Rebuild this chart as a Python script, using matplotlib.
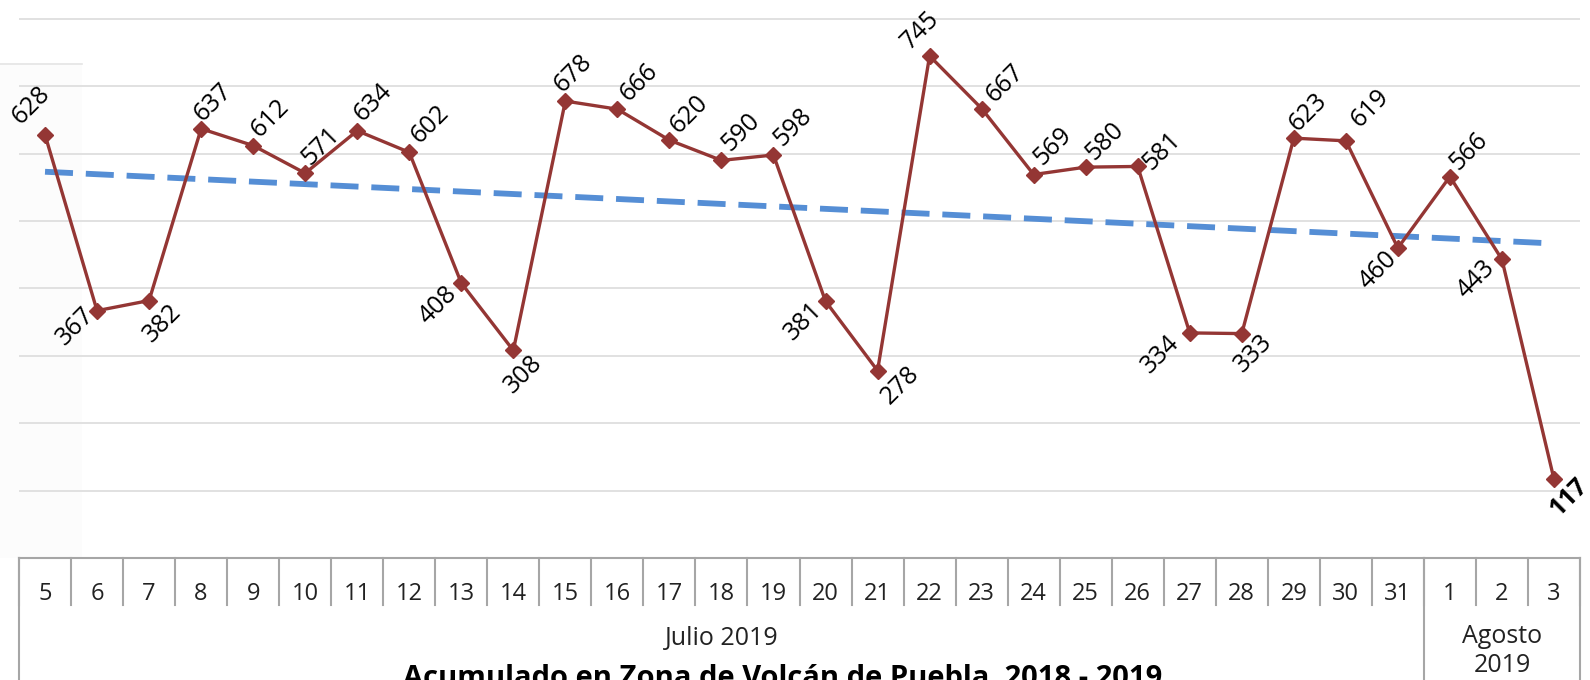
import numpy as np
import matplotlib
matplotlib.use("Agg")
import matplotlib.pyplot as plt
from matplotlib.lines import Line2D
from matplotlib.patches import Rectangle
from matplotlib.transforms import blended_transform_factory

plt.rcParams['font.family'] = ['Open Sans', 'DejaVu Sans']

# data
days = ['5', '6', '7', '8', '9', '10', '11', '12', '13', '14', '15', '16', '17', '18', '19',
        '20', '21', '22', '23', '24', '25', '26', '27', '28', '29', '30', '31', '1', '2', '3']
values = [628, 367, 382, 637, 612, 571, 634, 602, 408, 308, 678, 666, 620, 590, 598,
          381, 278, 745, 667, 569, 580, 581, 334, 333, 623, 619, 460, 566, 443, 117]
months = ['Julio 2019', 'Agosto\n2019']
month_days = [27, 3]
title = 'Acumulado en Zona de Volcán de Puebla  2018 - 2019'

# label offsets in pixels (dx, dy; dy up positive)
label_off = [(-14, 30), (-22, -16), (13, -23), (12, 26), (17, 27), (16, 27), (16, 28), (21, 28),
             (-23, -22), (10, -24), (8, 28), (22, 27), (20, 26), (19, 28), (19, 28),
             (-22, -20), (23, -15), (-9, 26), (24, 25), (19, 28), (19, 26), (24, 15),
             (-29, -21), (12, -20), (14, 26), (24, 33), (-20, -22), (19, 25), (-26, -20), (15, -18)]

W, H = 1590, 680
fig = plt.figure(figsize=(W / 100, H / 100), dpi=100)
left, right, bottom_px = 19, 1580, 558
ax = fig.add_axes([left / W, (H - bottom_px) / H, (right - left) / W, bottom_px / H])
ax.patch.set_alpha(0)

# faint panel at top-left
fig.add_artist(Rectangle((0, (H - 558) / H), 82 / W, (558 - 64) / H, transform=fig.transFigure,
                         facecolor='#fcfcfc', edgecolor='none', zorder=-5))
fig.add_artist(Line2D([0, 82 / W], [(H - 64) / H] * 2, transform=fig.transFigure,
                      color='#e4e4e4', lw=1.2, zorder=-4))

x = np.arange(len(values))
ax.set_xlim(-0.5, len(values) - 0.5)
ax.set_ylim(0, 828)
for g in range(100, 900, 100):
    ax.axhline(g, color='#d9d9d9', lw=1.1, zorder=0)

ax.plot(x, values, color='#943634', lw=2.4, marker='D', markersize=8.5, zorder=3)

# linear trend line
k, b = np.polyfit(x, values, 1)
ax.plot(x, k * x + b, color='#558ed5', lw=4.2, dashes=(4.8, 2.2), zorder=2)

for i, v in enumerate(values):
    dx, dy = label_off[i]
    bold = i == len(values) - 1
    ax.annotate(str(v), (x[i], v), xytext=(dx, dy), textcoords='offset pixels',
                rotation=45, ha='center', va='center', rotation_mode='anchor',
                fontsize=18, color='black', fontweight='bold' if bold else 'normal',
                zorder=4)

for s in ax.spines.values():
    s.set_visible(False)
ax.set_yticks([])
ax.set_xticks(x)
ax.set_xticklabels(days, fontsize=17, color='#222222')
ax.tick_params(axis='x', length=0, pad=17)

# multi level category box
tr = blended_transform_factory(ax.transData, fig.transFigure)
yb = (H - bottom_px) / H
ytick = (H - 605) / H
box = '#a6a6a6'
fig.add_artist(Line2D([-0.5, len(values) - 0.5], [yb, yb], transform=tr, color=box, lw=1.5))
for e in np.arange(len(values) + 1) - 0.5:
    fig.add_artist(Line2D([e, e], [yb, ytick], transform=tr, color=box, lw=1.5))
start = -0.5
for m, n in zip(months, month_days):
    end = start + n
    fig.add_artist(Line2D([start, start], [yb, 0], transform=tr, color=box, lw=1.5))
    mid = (start + end) / 2
    ym = (H - 651) / H if '\n' in m else (H - 638) / H
    fig.text(mid, ym, m, transform=tr, ha='center', va='center',
             fontsize=18, color='#222222', linespacing=1.25)
    start = end
fig.add_artist(Line2D([start, start], [yb, 0], transform=tr, color=box, lw=1.5))

fig.text(783 / W, (H - 664) / H, title, ha='center', va='top', fontsize=21,
         fontweight='bold', color='black')

fig.savefig('out.png', dpi=100)
